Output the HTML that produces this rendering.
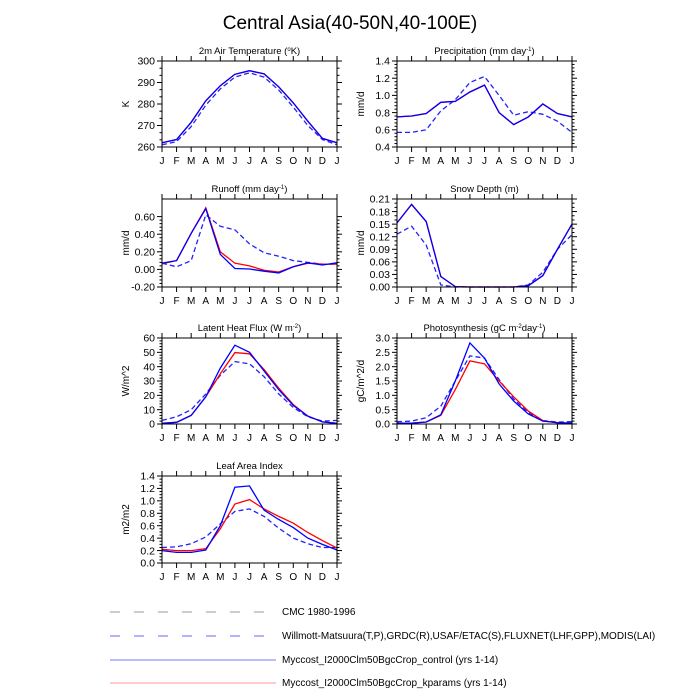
<!DOCTYPE html>
<html><head><meta charset="utf-8"><style>
html,body{margin:0;padding:0;background:#fff;}
svg{display:block;font-family:"Liberation Sans",sans-serif;}
</style></head><body>
<svg id="s" width="700" height="700" viewBox="0 0 700 700" xmlns="http://www.w3.org/2000/svg">
<rect width="700" height="700" fill="#fff"/>
<text x="350" y="29" font-size="19" text-anchor="middle">Central Asia(40-50N,40-100E)</text>
<g font-size="9.5" text-anchor="middle">
<text x="249.5" y="54">2m Air Temperature (<tspan baseline-shift="super" font-size="6">o</tspan>K)</text>
<text x="484.5" y="54">Precipitation (mm day<tspan baseline-shift="super" font-size="6">-1</tspan>)</text>
<text x="249.5" y="192">Runoff (mm day<tspan baseline-shift="super" font-size="6">-1</tspan>)</text>
<text x="484.5" y="192">Snow Depth (m)</text>
<text x="249.5" y="331">Latent Heat Flux (W m<tspan baseline-shift="super" font-size="6">-2</tspan>)</text>
<text x="484.5" y="331">Photosynthesis (gC m<tspan baseline-shift="super" font-size="6">-2</tspan>day<tspan baseline-shift="super" font-size="6">-1</tspan>)</text>
<text x="249.5" y="469">Leaf Area Index</text>
</g>
<g font-size="10">
<line x1="110" y1="612" x2="276" y2="612" stroke="#999" stroke-dasharray="10,14"/>
<text x="282" y="615">CMC 1980-1996</text>
<line x1="110" y1="636" x2="276" y2="636" stroke="#6666ff" stroke-dasharray="10,14"/>
<text x="282" y="639">Willmott-Matsuura(T,P),GRDC(R),USAF/ETAC(S),FLUXNET(LHF,GPP),MODIS(LAI)</text>
<line x1="110" y1="660" x2="276" y2="660" stroke="#7777ff"/>
<text x="282" y="663">Myccost_I2000Clm50BgcCrop_control (yrs 1-14)</text>
<line x1="110" y1="683" x2="276" y2="683" stroke="#ff9999"/>
<text x="282" y="686">Myccost_I2000Clm50BgcCrop_kparams (yrs 1-14)</text>
</g>
</svg>
<script>
var S=document.getElementById('s'),NS="http://www.w3.org/2000/svg";
function el(t,a,txt){var e=document.createElementNS(NS,t);for(var k in a)e.setAttribute(k,a[k]);if(txt!=null)e.textContent=txt;S.appendChild(e);return e;}
var M="JFMAMJJASONDJ";
var P=[
{x:162,t:61,b:147,min:260,max:300,maj:[260,270,280,290,300],lab:["260","270","280","290","300"],mn:2,yl:"K",
 d:[262,263.5,271.5,281.5,288.5,293.8,295.5,294,288,280.5,272,264,262],
 r:[262,263.5,271.5,281.5,288.5,293.8,295.5,294,288,280.5,272,264,262],
 o:[261,262.5,269.5,279.5,287,292.5,294.5,292.5,286.5,278.5,270,263.5,261]},
{x:397,t:61,b:147,min:0.4,max:1.4,maj:[0.4,0.6,0.8,1.0,1.2,1.4],lab:["0.4","0.6","0.8","1.0","1.2","1.4"],mn:4,yl:"mm/d",
 d:[.75,.76,.79,.92,.93,1.04,1.12,.8,.66,.75,.9,.79,.75],
 r:[.75,.76,.79,.92,.93,1.04,1.12,.8,.66,.75,.9,.79,.75],
 o:[.57,.57,.6,.82,.95,1.15,1.22,1.0,.77,.81,.78,.7,.57]},
{x:162,t:199,b:287,min:-0.2,max:0.8,maj:[-0.2,0,0.2,0.4,0.6],lab:["-0.20","0.00","0.20","0.40","0.60"],mn:4,yl:"mm/d",
 d:[.07,.1,.41,.69,.17,.01,.005,-.02,-.04,.03,.075,.05,.075],
 r:[.065,.1,.41,.7,.2,.07,.04,-.01,-.03,.03,.07,.06,.06],
 o:[.07,.03,.1,.62,.49,.45,.29,.19,.15,.1,.08,.06,.06]},
{x:397,t:199,b:287,min:0,max:0.21,maj:[0,.03,.06,.09,.12,.15,.18,.21],lab:["0.00","0.03","0.06","0.09","0.12","0.15","0.18","0.21"],mn:2,yl:"mm/d",
 d:[.153,.197,.156,.025,.001,0,0,0,0,.003,.027,.09,.15],
 r:[.153,.197,.156,.025,.001,0,0,0,0,.003,.027,.09,.15],
 o:[.126,.145,.1,.005,0,0,0,0,0,.005,.035,.09,.125]},
{x:162,t:338,b:424,min:0,max:60,maj:[0,10,20,30,40,50,60],lab:["0","10","20","30","40","50","60"],mn:4,yl:"W/m^2",
 d:[.5,1.2,6,19,39,55,50,37,24,13,5.5,1.5,.5],
 r:[.5,1.2,6,19,35,49.8,49,38,25,13.5,5.5,1.5,.5],
 o:[2.5,5,10,21,34,43.5,42,33,21,11.5,5,2,2.5]},
{x:397,t:338,b:424,min:0,max:3,maj:[0,.5,1,1.5,2,2.5,3],lab:["0.0","0.5","1.0","1.5","2.0","2.5","3.0"],mn:4,yl:"gC/m^2/d",
 d:[.03,.03,.07,.32,1.5,2.83,2.3,1.4,.8,.35,.1,.05,.03],
 r:[.03,.03,.07,.3,1.2,2.2,2.1,1.5,.95,.45,.12,.04,.03],
 o:[.08,.1,.22,.62,1.5,2.38,2.3,1.55,.87,.4,.12,.07,.08]},
{x:162,t:476,b:563,min:0,max:1.4,maj:[0,.2,.4,.6,.8,1,1.2,1.4],lab:["0.0","0.2","0.4","0.6","0.8","1.0","1.2","1.4"],mn:3,yl:"m2/m2",
 d:[.2,.17,.17,.21,.6,1.22,1.24,.85,.7,.57,.4,.3,.21],
 r:[.22,.2,.2,.23,.55,.95,1.02,.87,.75,.64,.49,.36,.24],
 o:[.25,.26,.31,.42,.63,.83,.87,.75,.56,.4,.31,.25,.25]}
];
P.forEach(function(p){
 var w=175,h=p.b-p.t,dx=w/12;
 function Y(v){return p.b-(v-p.min)/(p.max-p.min)*h;}
 function line(a,c,dash){var pts=a.map(function(v,i){return (p.x+i*dx).toFixed(1)+","+Y(v).toFixed(1);}).join(" ");
  var o={points:pts,fill:"none",stroke:c,"stroke-width":1.3};if(dash)o["stroke-dasharray"]="5,3";el("polyline",o);}
 line(p.o,"#2222ff",1);line(p.r,"#ff0000");line(p.d,"#0000ff");
 el("rect",{x:p.x,y:p.t,width:w,height:h,fill:"none",stroke:"#000","stroke-width":1});
 for(var i=0;i<13;i++){var x=p.x+i*dx;
  el("line",{x1:x,y1:p.b,x2:x,y2:p.b+5,stroke:"#000"});
  el("line",{x1:x,y1:p.t,x2:x,y2:p.t-5,stroke:"#000"});
  el("text",{x:x,y:p.b+17,"font-size":10,"text-anchor":"middle"},M[i]);}
 p.maj.forEach(function(v,k){var y=Y(v);
  el("line",{x1:p.x-5,y1:y,x2:p.x,y2:y,stroke:"#000"});
  el("line",{x1:p.x+w,y1:y,x2:p.x+w+5,y2:y,stroke:"#000"});
  el("text",{x:p.x-7,y:y+3.7,"font-size":10.5,"text-anchor":"end"},p.lab[k]);
  if(k<p.maj.length-1){var st=(p.maj[k+1]-v)/(p.mn+1);
   for(var j=1;j<=p.mn;j++){var yy=Y(v+j*st);
    el("line",{x1:p.x-2.5,y1:yy,x2:p.x,y2:yy,stroke:"#000"});
    el("line",{x1:p.x+w,y1:yy,x2:p.x+w+2.5,y2:yy,stroke:"#000"});}}
 });
 var lx=p.x-33,ly=(p.t+p.b)/2;
 el("text",{x:lx,y:ly,"font-size":10,"text-anchor":"middle",transform:"rotate(-90 "+lx+" "+ly+")"},p.yl);
});
</script>
</body></html>
